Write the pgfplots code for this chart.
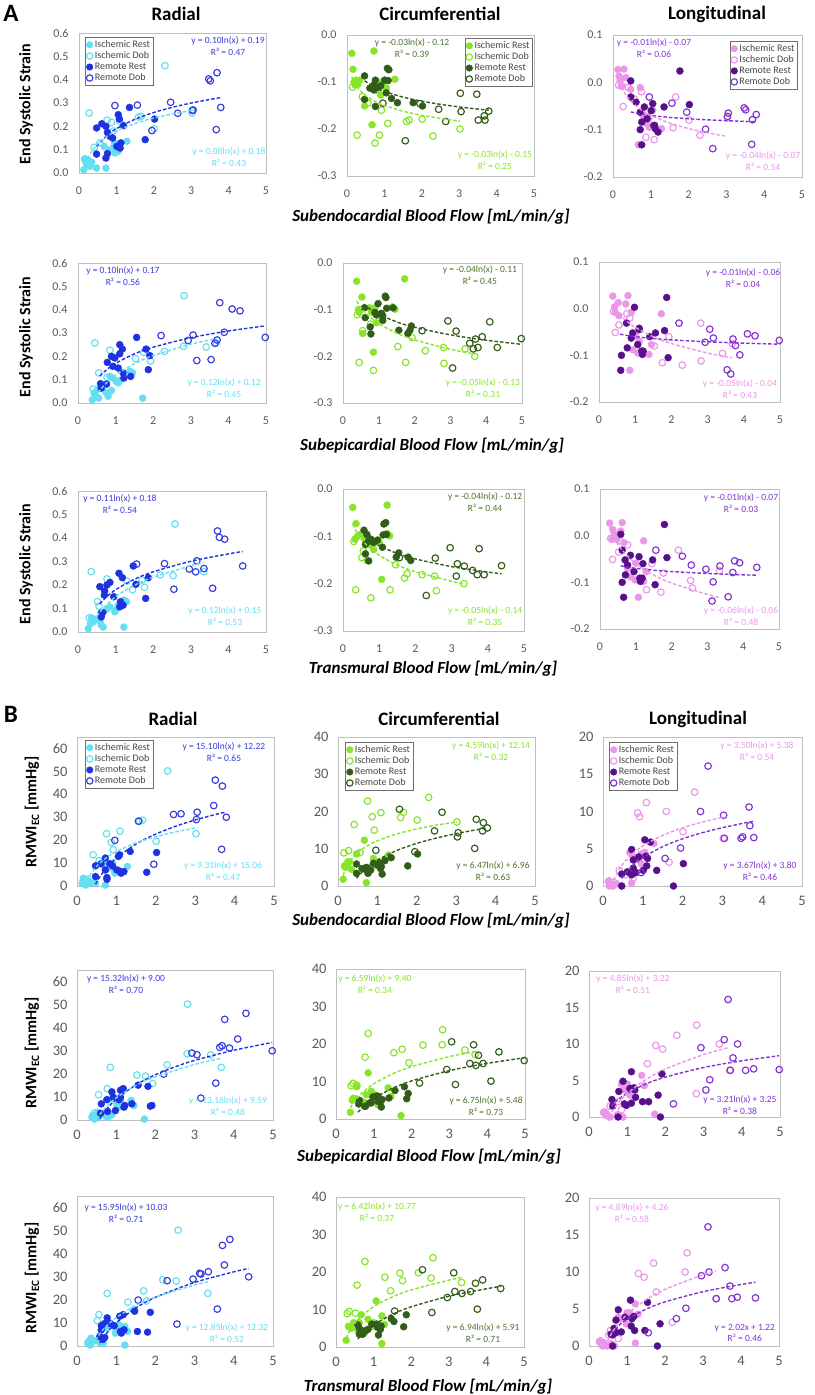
\documentclass[border=0pt]{standalone}
\usepackage{pgfplots}
\pgfplotsset{compat=1.18}
\usepackage{pgfplotstable}
\usepackage{fontspec}
\setmainfont{Carlito}
\definecolor{cyanI}{RGB}{100,222,240}
\definecolor{blueR}{RGB}{30,50,225}
\definecolor{blueD}{RGB}{55,60,220}
\definecolor{greenI}{RGB}{135,228,40}
\definecolor{greenR}{RGB}{50,92,25}
\definecolor{greenT}{RGB}{75,115,45}
\definecolor{pinkI}{RGB}{235,150,232}
\definecolor{purpleR}{RGB}{88,15,140}
\definecolor{purpleD}{RGB}{130,50,210}
\definecolor{axgray}{RGB}{190,190,190}
\definecolor{tickgray}{RGB}{89,89,89}
\definecolor{legtext}{RGB}{70,70,70}
\definecolor{leggray}{RGB}{110,110,110}
\newcommand\tickA{\fontsize{12}{14}\selectfont}
\newcommand\tickB{\fontsize{14.5}{16}\selectfont}
\newcommand\legfont{\fontsize{10}{11}\selectfont}
\newcommand\eqfont{\fontsize{9.5}{11.5}\selectfont}
\tikzset{eq/.style={font=\eqfont, align=center, inner sep=0pt}}

\pgfplotstableread{
en ep tr ra ci lo wr wc wl
0.13 0.38 0.27 0.014 -0.039 0.027 1.2 1.8 0.6
0.16 0.53 0.36 0.060 -0.073 0.013 3.4 5.4 0.0
0.19 0.43 0.40 0.043 -0.100 0.004 2.0 5.0 0.4
0.25 0.89 0.47 0.054 -0.096 -0.008 2.3 6.5 0.0
0.29 0.80 0.62 0.029 -0.105 0.028 1.2 6.5 0.2
0.34 0.74 0.58 0.046 -0.096 0.010 1.5 4.5 0.3
0.47 0.55 0.67 0.021 -0.151 -0.015 1.2 8.6 0.0
0.72 1.72 1.22 0.021 -0.034 -0.011 0.4 0.9 0.4
0.67 0.85 1.07 0.114 -0.191 -0.132 9.2 12.3 4.5
0.79 1.11 0.77 0.097 -0.117 -0.070 7.8 3.8 3.9
0.90 0.93 0.85 0.107 -0.128 -0.088 10.0 7.4 3.7
0.95 1.45 1.29 0.129 -0.099 -0.077 6.3 6.0 4.3
1.05 1.01 1.00 0.093 -0.113 -0.059 7.0 6.5 4.5
1.28 1.38 1.22 0.136 -0.094 -0.098 8.5 8.3 5.7
0.96 1.07 0.98 0.086 -0.108 -0.095 5.6 5.5 3.0
0.22 0.45 0.33 0.036 -0.106 -0.008 0.4 5.5 0.2
}\IR
\pgfplotstableread{
en ep tr ra ci lo wr wc wl
0.15 0.40 0.30 0.060 -0.111 -0.006 2.0 8.9 0.7
0.27 0.45 0.35 0.257 -0.213 -0.051 3.0 9.5 0.5
0.41 0.77 0.56 0.110 -0.131 -0.011 13.6 16.5 2.1
0.56 0.55 0.52 0.129 -0.145 -0.035 11.0 9.0 1.5
0.75 0.85 0.77 0.226 -0.230 -0.020 22.8 22.8 1.0
0.87 1.75 1.30 0.217 -0.213 -0.116 19.0 18.6 9.8
0.92 1.93 1.45 0.180 -0.160 -0.060 15.8 15.0 9.3
1.09 2.30 1.70 0.221 -0.188 -0.121 23.9 19.7 11.2
1.59 3.41 2.53 0.240 -0.184 -0.096 28.2 18.4 10.0
1.66 2.81 2.19 0.243 -0.181 -0.031 28.7 19.8 3.2
2.01 1.53 1.77 0.190 -0.179 -0.080 19.5 17.7 7.3
2.30 2.82 2.58 0.460 -0.215 -0.112 50.2 23.8 12.6
3.02 3.68 3.34 0.257 -0.200 -0.075 22.8 17.2 6.4
}\ID
\pgfplotstableread{
en ep tr ra ci lo wr wc wl
0.47 0.98 0.58 0.193 -0.087 0.003 4.1 5.9 1.6
0.47 0.76 0.62 0.081 -0.137 -0.031 8.8 3.4 0.0
0.61 1.11 0.85 0.211 -0.113 -0.042 9.7 4.7 1.9
0.72 0.89 0.77 0.200 -0.106 -0.063 12.2 4.3 4.9
0.76 0.78 0.71 0.174 -0.152 -0.084 3.7 3.4 3.5
0.76 0.60 0.66 0.083 -0.096 -0.132 2.9 4.0 2.4
0.72 0.62 0.62 0.064 -0.117 -0.100 7.0 5.0 1.5
0.90 1.07 0.95 0.150 -0.108 -0.077 8.8 6.1 3.9
1.05 1.11 1.09 0.250 -0.123 -0.045 12.9 6.1 6.2
1.08 1.18 1.18 0.231 -0.071 -0.091 13.6 4.7 4.0
1.19 1.91 1.54 0.203 -0.135 -0.105 6.3 6.8 5.9
1.01 1.40 1.20 0.114 -0.096 -0.060 7.0 5.6 2.1
1.12 1.20 1.13 0.129 -0.074 -0.098 5.6 3.2 3.7
1.35 1.56 1.47 0.281 -0.144 -0.052 15.1 7.6 2.1
1.77 1.87 1.80 0.143 -0.144 0.024 6.0 5.4 0.0
2.02 1.81 1.87 0.231 -0.151 -0.047 14.6 8.6 3.0
1.10 1.22 1.11 0.107 -0.097 -0.091 6.3 5.2 2.7
0.83 0.93 0.70 0.157 -0.111 -0.052 9.7 4.3 1.8
}\RR
\pgfplotstableread{
en ep tr ra ci lo wr wc wl
0.96 2.21 1.56 0.289 -0.145 -0.031 19.9 9.6 1.8
1.56 3.06 2.30 0.291 -0.225 -0.044 28.3 20.6 3.7
1.95 3.16 2.55 0.182 -0.146 -0.063 9.5 9.2 5.1
2.45 3.89 3.16 0.303 -0.158 -0.099 31.2 14.8 10.0
2.64 3.64 3.13 0.256 -0.184 -0.140 31.5 19.8 16.1
3.03 2.93 2.96 0.268 -0.124 -0.072 29.0 13.2 9.5
3.05 3.70 3.35 0.270 -0.163 -0.065 32.2 14.3 6.4
3.47 4.10 3.76 0.403 -0.126 -0.054 35.1 10.1 6.4
3.51 4.31 3.90 0.395 -0.181 -0.058 46.2 17.9 6.6
3.67 3.54 3.58 0.186 -0.172 -0.131 16.0 14.8 10.6
3.69 3.77 3.71 0.430 -0.181 -0.079 43.6 17.0 8.1
3.79 4.98 4.38 0.281 -0.162 -0.068 30.0 15.6 6.5
}\RD

\pgfplotsset{
  base/.style={scale only axis, anchor=south west, xmin=0, xmax=5, xtick={0,1,2,3,4,5},
    axis line style={draw=axgray, line width=0.7pt}, major tick length=0pt,
    tick label style={text=tickgray},
    /pgf/number format/assume math mode=true, clip mode=individual,
    legend cell align=left,
    legend style={draw=leggray, fill=white, font=\legfont, text=legtext, inner sep=1.2pt,
      row sep=-1.2pt, line width=0.6pt, /tikz/every even column/.append style={column sep=0pt}},
    legend image code/.code={\draw[#1, mark size=3.2pt] plot coordinates {(3.5pt,0pt)};}},
  Aax/.style={base, tick label style={font=\tickA}, xticklabel style={yshift=-10pt}, yticklabel style={xshift=-7pt}},
  Bax/.style={base, tick label style={font=\tickB}, xticklabel style={yshift=-7pt}, yticklabel style={xshift=-6pt}},
  rA/.style={Aax, ymin=0, ymax=0.6, ytick={0,0.1,0.2,0.3,0.4,0.5,0.6}, yticklabel style={/pgf/number format/.cd, fixed, fixed zerofill, precision=1}},
  cA/.style={Aax, ymin=-0.3, ymax=0, ytick={-0.3,-0.2,-0.1,0}, yticklabel style={/pgf/number format/.cd, fixed, fixed zerofill, precision=1}},
  lA/.style={Aax, ymin=-0.2, ymax=0.1, ytick={-0.2,-0.1,0,0.1}, yticklabel style={/pgf/number format/.cd, fixed, fixed zerofill, precision=1}},
  rB/.style={Bax, ymin=0, ymax=65, ytick={0,10,20,30,40,50,60}},
  cB/.style={Bax, ymin=0, ymax=40, ytick={0,10,20,30,40}},
  lB/.style={Bax, ymin=0, ymax=20, ytick={0,5,10,15,20}},
  fillm/.style={only marks, mark=*, mark size=3.5pt, color=#1},
  openm/.style={only marks, mark=o, mark size=3.3pt, color=#1, mark options={line width=1.15pt}},
  trend/.style={no marks, smooth, color=#1, line width=1.4pt, dash pattern=on 3.5pt off 2pt, forget plot},
}
\newcommand{\scat}[5]{%
  \addplot[fillm=#3] table[x=#1,y=#2]{\IR};
  \addplot[openm=#3] table[x=#1,y=#2]{\ID};
  \addplot[fillm=#4] table[x=#1,y=#2]{\RR};
  \addplot[openm=#5] table[x=#1,y=#2]{\RD};
}
\newcommand{\leg}{\legend{Ischemic Rest, Ischemic Dob, Remote Rest, Remote Dob}}

\begin{document}
\begin{tikzpicture}
\useasboundingbox (0pt,0pt) rectangle (814pt,-1395pt);

% ================= A row 1 (subendocardial) =================
\begin{axis}[rA, at={(79pt,-173pt)}, width=187pt, height=140pt,
  legend style={at={(0.032,0.971)}, anchor=north west}]
\scat{en}{ra}{cyanI}{blueR}{blueD}
\addplot[trend=blueR] coordinates {(0.47,0.1145)(0.75,0.1612)(1,0.19)(1.5,0.2305)(2,0.2593)(2.5,0.2816)(3,0.2999)(3.5,0.3153)(3.79,0.3232)};
\addplot[trend=cyanI] coordinates {(0.13,0.0168)(0.2,0.0513)(0.3,0.0837)(0.5,0.1246)(0.75,0.157)(1,0.18)(1.5,0.2124)(2,0.2354)(2.5,0.2533)(3.02,0.2684)};
\leg
\node[eq, text=blueD] at (rel axis cs:0.797,0.907) {y = 0.10ln(x) + 0.19\\R² = 0.47};
\node[eq, text=cyanI] at (rel axis cs:0.802,0.114) {y = 0.08ln(x) + 0.18\\R² = 0.43};
\end{axis}

\begin{axis}[cA, at={(347pt,-176pt)}, width=187pt, height=141pt,
  legend style={at={(0.995,0.978)}, anchor=north east}]
\scat{en}{ci}{greenI}{greenR}{greenR}
\addplot[trend=greenR] coordinates {(0.47,-0.0973)(0.75,-0.1114)(1,-0.12)(1.5,-0.1322)(2,-0.1408)(2.5,-0.1475)(3,-0.153)(3.5,-0.1576)(3.79,-0.16)};
\addplot[trend=greenI] coordinates {(0.13,-0.0888)(0.2,-0.1017)(0.3,-0.1139)(0.5,-0.1292)(0.75,-0.1414)(1,-0.15)(1.5,-0.1622)(2,-0.1708)(2.5,-0.1775)(3.02,-0.1832)};
\leg
\node[eq, text=greenT] at (rel axis cs:0.348,0.908) {y = -0.03ln(x) - 0.12\\R² = 0.39};
\node[eq, text=greenI] at (rel axis cs:0.791,0.113) {y = -0.03ln(x) - 0.15\\R² = 0.25};
\end{axis}

\begin{axis}[lA, at={(613pt,-177pt)}, width=189pt, height=142pt,
  legend style={at={(0.979,0.958)}, anchor=north east}]
\scat{en}{lo}{pinkI}{purpleR}{purpleD}
\addplot[trend=purpleD] coordinates {(0.47,-0.0625)(0.75,-0.0671)(1,-0.07)(1.5,-0.0741)(2,-0.0769)(2.5,-0.0792)(3,-0.081)(3.5,-0.0825)(3.79,-0.0833)};
\addplot[trend=pinkI] coordinates {(0.13,0.0116)(0.2,-0.0056)(0.3,-0.0218)(0.5,-0.0423)(0.75,-0.0585)(1,-0.07)(1.5,-0.0862)(2,-0.0977)(2.5,-0.1066)(3.02,-0.1142)};
\leg
\node[eq, text=purpleD] at (rel axis cs:0.217,0.908) {y = -0.01ln(x) - 0.07\\R² = 0.06};
\node[eq, text=pinkI] at (rel axis cs:0.794,0.113) {y = -0.04ln(x) - 0.07\\R² = 0.54};
\end{axis}

% ================= A row 2 (subepicardial) =================
\begin{axis}[rA, at={(78pt,-403pt)}, width=188pt, height=140pt]
\scat{ep}{ra}{cyanI}{blueR}{blueD}
\addplot[trend=blueR] coordinates {(0.58,0.1155)(0.75,0.1412)(1,0.17)(1.5,0.2105)(2,0.2393)(3,0.2799)(4,0.3086)(4.98,0.3305)};
\addplot[trend=cyanI] coordinates {(0.38,0.0038)(0.5,0.0368)(0.75,0.0854)(1,0.12)(1.5,0.1686)(2,0.2032)(3,0.2519)(3.68,0.2764)};
\node[eq, text=blueD] at (rel axis cs:0.239,0.907) {y = 0.10ln(x) + 0.17\\R² = 0.56};
\node[eq, text=cyanI] at (rel axis cs:0.777,0.107) {y = 0.12ln(x) + 0.12\\R² = 0.45};
\end{axis}

\begin{axis}[cA, at={(343pt,-403pt)}, width=179pt, height=140pt]
\scat{ep}{ci}{greenI}{greenR}{greenR}
\addplot[trend=greenR] coordinates {(0.58,-0.0882)(0.75,-0.0985)(1,-0.11)(1.5,-0.1262)(2,-0.1377)(3,-0.154)(4,-0.1654)(4.98,-0.1742)};
\addplot[trend=greenI] coordinates {(0.38,-0.0816)(0.5,-0.0954)(0.75,-0.1156)(1,-0.13)(1.5,-0.1503)(2,-0.1647)(3,-0.185)(3.68,-0.1952)};
\node[eq, text=greenT] at (rel axis cs:0.765,0.914) {y = -0.04ln(x) - 0.11\\R² = 0.45};
\node[eq, text=greenI] at (rel axis cs:0.782,0.107) {y = -0.05ln(x) - 0.13\\R² = 0.31};
\end{axis}

\begin{axis}[lA, at={(599pt,-402pt)}, width=181pt, height=140pt]
\scat{ep}{lo}{pinkI}{purpleR}{purpleD}
\addplot[trend=purpleD] coordinates {(0.58,-0.0546)(0.75,-0.0571)(1,-0.06)(1.5,-0.0641)(2,-0.0669)(3,-0.071)(4,-0.0739)(4.98,-0.0761)};
\addplot[trend=pinkI] coordinates {(0.38,0.0084)(0.5,-0.0054)(0.75,-0.0256)(1,-0.04)(1.5,-0.0603)(2,-0.0747)(3,-0.095)(3.68,-0.1052)};
\node[eq, text=purpleD] at (rel axis cs:0.796,0.886) {y = -0.01ln(x) - 0.06\\R² = 0.04};
\node[eq, text=pinkI] at (rel axis cs:0.779,0.093) {y = -0.05ln(x) - 0.04\\R² = 0.43};
\end{axis}

% ================= A row 3 (transmural) =================
\begin{axis}[rA, at={(78pt,-632pt)}, width=188pt, height=141pt]
\scat{tr}{ra}{cyanI}{blueR}{blueD}
\addplot[trend=blueR] coordinates {(0.58,0.12)(0.75,0.1483)(1,0.18)(1.5,0.2246)(2,0.2562)(3,0.3009)(4,0.3325)(4.38,0.3425)};
\addplot[trend=cyanI] coordinates {(0.3,0.0055)(0.4,0.0401)(0.6,0.0887)(1,0.15)(1.5,0.1986)(2,0.2332)(3,0.2819)(3.34,0.2947)};
\node[eq, text=blueD] at (rel axis cs:0.223,0.908) {y = 0.11ln(x) + 0.18\\R² = 0.54};
\node[eq, text=cyanI] at (rel axis cs:0.782,0.113) {y = 0.12ln(x) + 0.15\\R² = 0.53};
\end{axis}

\begin{axis}[cA, at={(343pt,-631pt)}, width=181pt, height=142pt]
\scat{tr}{ci}{greenI}{greenR}{greenR}
\addplot[trend=greenR] coordinates {(0.58,-0.0982)(0.75,-0.1085)(1,-0.12)(1.5,-0.1362)(2,-0.1477)(3,-0.164)(4,-0.1754)(4.38,-0.1791)};
\addplot[trend=greenI] coordinates {(0.27,-0.0746)(0.4,-0.0942)(0.6,-0.1145)(1,-0.14)(1.5,-0.1603)(2,-0.1747)(3,-0.195)(3.34,-0.2003)};
\node[eq, text=greenT] at (rel axis cs:0.785,0.908) {y = -0.04ln(x) - 0.12\\R² = 0.44};
\node[eq, text=greenI] at (rel axis cs:0.785,0.106) {y = -0.05ln(x) - 0.14\\R² = 0.35};
\end{axis}

\begin{axis}[lA, at={(600pt,-629pt)}, width=179pt, height=140pt]
\scat{tr}{lo}{pinkI}{purpleR}{purpleD}
\addplot[trend=purpleD] coordinates {(0.58,-0.0646)(0.75,-0.0671)(1,-0.07)(1.5,-0.0741)(2,-0.0769)(3,-0.081)(4,-0.0839)(4.38,-0.0848)};
\addplot[trend=pinkI] coordinates {(0.27,0.0185)(0.4,-0.005)(0.6,-0.0293)(1,-0.06)(1.5,-0.0843)(2,-0.1016)(3,-0.1259)(3.34,-0.1324)};
\node[eq, text=purpleD] at (rel axis cs:0.788,0.9) {y = -0.01ln(x) - 0.07\\R² = 0.03};
\node[eq, text=pinkI] at (rel axis cs:0.788,0.093) {y = -0.06ln(x) - 0.06\\R² = 0.48};
\end{axis}

% ================= B row 1 (subendocardial) =================
\begin{axis}[rB, at={(77pt,-886pt)}, width=197pt, height=149pt,
  legend style={at={(0.041,0.98)}, anchor=north west}]
\scat{en}{wr}{cyanI}{blueR}{blueD}
\addplot[trend=blueR] coordinates {(0.47,0.82)(0.6,4.50)(0.75,7.87)(1,12.22)(1.5,18.34)(2,22.68)(2.5,26.05)(3,28.81)(3.5,31.14)(3.79,32.33)};
\addplot[trend=cyanI] coordinates {(0.2,0.08)(0.3,3.85)(0.5,8.61)(0.75,12.38)(1,15.06)(1.5,18.83)(2,21.51)(2.5,23.59)(3.02,25.35)};
\leg
\node[eq, text=blueD] at (rel axis cs:0.746,0.899) {y = 15.10ln(x) + 12.22\\R² = 0.65};
\node[eq, text=cyanI] at (rel axis cs:0.741,0.10) {y = 9.31ln(x) + 15.06\\R² = 0.47};
\end{axis}

\begin{axis}[cB, at={(338pt,-886pt)}, width=197pt, height=149pt,
  legend style={at={(0.036,0.966)}, anchor=north west}]
\scat{en}{wc}{greenI}{greenR}{greenR}
\addplot[trend=greenR] coordinates {(0.47,2.08)(0.6,3.65)(0.75,5.10)(1,6.96)(1.5,9.58)(2,11.44)(2.5,12.89)(3,14.07)(3.5,15.07)(3.79,15.58)};
\addplot[trend=greenI] coordinates {(0.13,2.78)(0.2,4.76)(0.3,6.61)(0.5,8.96)(0.75,10.82)(1,12.14)(1.5,14.0)(2,15.32)(2.5,16.34)(3.02,17.21)};
\leg
\node[eq, text=greenI] at (rel axis cs:0.777,0.906) {y = 4.59ln(x) + 12.14\\R² = 0.32};
\node[eq, text=greenT] at (rel axis cs:0.787,0.10) {y = 6.47ln(x) + 6.96\\R² = 0.63};
\end{axis}

\begin{axis}[lB, at={(603pt,-886pt)}, width=199pt, height=149pt,
  legend style={at={(0.03,0.966)}, anchor=north west}]
\scat{en}{wl}{pinkI}{purpleR}{purpleD}
\addplot[trend=purpleD] coordinates {(0.47,1.03)(0.6,1.92)(0.75,2.74)(1,3.80)(1.5,5.29)(2,6.34)(2.5,7.16)(3,7.83)(3.5,8.40)(3.79,8.69)};
\addplot[trend=pinkI] coordinates {(0.22,0.08)(0.3,1.17)(0.5,2.95)(0.75,4.37)(1,5.38)(1.5,6.80)(2,7.81)(2.5,8.59)(3.02,9.25)};
\leg
\node[eq, text=pinkI] at (rel axis cs:0.774,0.906) {y = 3.50ln(x) + 5.38\\R² = 0.54};
\node[eq, text=purpleD] at (rel axis cs:0.789,0.10) {y = 3.67ln(x) + 3.80\\R² = 0.46};
\end{axis}

% ================= B row 2 (subepicardial) =================
\begin{axis}[rB, at={(77pt,-1120pt)}, width=196pt, height=150pt]
\scat{ep}{wr}{cyanI}{blueR}{blueD}
\addplot[trend=blueR] coordinates {(0.58,0.65)(0.75,4.59)(1,9.0)(1.5,15.20)(2,19.62)(2.5,23.03)(3,25.84)(4,30.23)(4.98,33.59)};
\addplot[trend=cyanI] coordinates {(0.5,0.47)(0.6,2.87)(0.75,5.80)(1,9.59)(1.5,14.92)(2,18.71)(3,24.05)(3.68,26.74)};
\node[eq, text=blueD] at (rel axis cs:0.25,0.907) {y = 15.32ln(x) + 9.00\\R² = 0.70};
\node[eq, text=cyanI] at (rel axis cs:0.77,0.093) {y = 13.16ln(x) + 9.59\\R² = 0.48};
\end{axis}

\begin{axis}[cB, at={(336pt,-1119pt)}, width=189pt, height=150pt]
\scat{ep}{wc}{greenI}{greenR}{greenR}
\addplot[trend=greenR] coordinates {(0.58,1.80)(0.75,3.54)(1,5.48)(1.5,8.21)(2,10.16)(3,12.90)(4,14.84)(4.98,16.31)};
\addplot[trend=greenI] coordinates {(0.38,3.02)(0.5,4.83)(0.75,7.50)(1,9.40)(1.5,12.07)(2,13.97)(3,16.64)(3.68,17.99)};
\node[eq, text=greenI] at (rel axis cs:0.206,0.9) {y = 6.59ln(x) + 9.40\\R² = 0.34};
\node[eq, text=greenT] at (rel axis cs:0.794,0.087) {y = 6.75ln(x) + 5.48\\R² = 0.73};
\end{axis}

\begin{axis}[lB, at={(589pt,-1117pt)}, width=191pt, height=146pt]
\scat{ep}{wl}{pinkI}{purpleR}{purpleD}
\addplot[trend=purpleD] coordinates {(0.58,1.50)(0.75,2.33)(1,3.25)(1.5,4.55)(2,5.47)(3,6.78)(4,7.70)(4.98,8.40)};
\addplot[trend=pinkI] coordinates {(0.52,0.05)(0.6,0.74)(0.75,1.82)(1,3.22)(1.5,5.18)(2,6.58)(3,8.55)(3.68,9.54)};
\node[eq, text=pinkI] at (rel axis cs:0.23,0.911) {y = 4.85ln(x) + 3.22\\R² = 0.51};
\node[eq, text=purpleD] at (rel axis cs:0.79,0.082) {y = 3.21ln(x) + 3.25\\R² = 0.38};
\end{axis}

% ================= B row 3 (transmural) =================
\begin{axis}[rB, at={(77pt,-1346pt)}, width=196pt, height=150pt]
\scat{tr}{wr}{cyanI}{blueR}{blueD}
\addplot[trend=blueR] coordinates {(0.58,1.34)(0.75,5.44)(1,10.03)(1.5,16.49)(2,21.08)(3,27.56)(4,32.14)(4.38,33.59)};
\addplot[trend=cyanI] coordinates {(0.4,0.55)(0.6,5.75)(0.75,8.62)(1,12.32)(1.5,17.52)(2,21.23)(3,26.44)(3.34,27.82)};
\node[eq, text=blueD] at (rel axis cs:0.25,0.887) {y = 15.95ln(x) + 10.03\\R² = 0.71};
\node[eq, text=cyanI] at (rel axis cs:0.765,0.087) {y = 12.85ln(x) + 12.32\\R² = 0.52};
\end{axis}

\begin{axis}[cB, at={(336pt,-1347pt)}, width=188pt, height=150pt]
\scat{tr}{wc}{greenI}{greenR}{greenR}
\addplot[trend=greenR] coordinates {(0.58,2.13)(0.75,3.91)(1,5.91)(1.5,8.72)(2,10.72)(3,13.54)(4,15.53)(4.38,16.16)};
\addplot[trend=greenI] coordinates {(0.27,2.37)(0.4,4.89)(0.6,7.49)(1,10.77)(1.5,13.37)(2,15.22)(3,17.83)(3.34,18.51)};
\node[eq, text=greenI] at (rel axis cs:0.218,0.9) {y = 6.42ln(x) + 10.77\\R² = 0.37};
\node[eq, text=greenT] at (rel axis cs:0.782,0.093) {y = 6.94ln(x) + 5.91\\R² = 0.71};
\end{axis}

\begin{axis}[lB, at={(589pt,-1346pt)}, width=190pt, height=148pt]
\scat{tr}{wl}{pinkI}{purpleR}{purpleD}
\addplot[trend=purpleD] coordinates {(0.58,1.75)(0.75,2.62)(1,3.60)(1.5,4.98)(2,5.96)(3,7.34)(4,8.31)(4.38,8.62)};
\addplot[trend=pinkI] coordinates {(0.42,0.02)(0.6,1.76)(0.75,2.85)(1,4.26)(1.5,6.24)(2,7.65)(3,9.63)(3.34,10.16)};
\node[eq, text=pinkI] at (rel axis cs:0.226,0.899) {y = 4.89ln(x) + 4.26\\R² = 0.58};
\node[eq, text=purpleD] at (rel axis cs:0.82,0.088) {y = 2.02x + 1.22\\R² = 0.46};
\end{axis}

% ================= texts =================
\node[font=\bfseries\fontsize{25}{25}\selectfont] at (11pt,-13pt) {A};
\node[font=\bfseries\fontsize{25}{25}\selectfont] at (11pt,-714pt) {B};
\begin{scope}[every node/.style={font=\bfseries\fontsize{19}{20}\selectfont}]
\node at (176pt,-14pt) {Radial};
\node at (440pt,-14pt) {Circumferential};
\node at (717pt,-14pt) {Longitudinal};
\node at (173pt,-719pt) {Radial};
\node at (439pt,-719pt) {Circumferential};
\node at (698pt,-719pt) {Longitudinal};
\end{scope}
\begin{scope}[every node/.style={font=\bfseries\fontsize{16}{17}\selectfont, rotate=90}]
\node at (26pt,-104pt) {End Systolic Strain};
\node at (26pt,-337pt) {End Systolic Strain};
\node at (26pt,-564pt) {End Systolic Strain};
\node at (32pt,-812pt) {RMWI\textsubscript{EC} [mmHg]};
\node at (32pt,-1053pt) {RMWI\textsubscript{EC} [mmHg]};
\node at (32pt,-1278pt) {RMWI\textsubscript{EC} [mmHg]};
\end{scope}
\begin{scope}[every node/.style={font=\bfseries\itshape\fontsize{17}{18}\selectfont}]
\node at (431pt,-217pt) {Subendocardial Blood Flow [mL/min/g]};
\node at (432pt,-446pt) {Subepicardial Blood Flow [mL/min/g]};
\node at (433pt,-669pt) {Transmural Blood Flow [mL/min/g]};
\node at (431pt,-921pt) {Subendocardial Blood Flow [mL/min/g]};
\node at (429pt,-1157pt) {Subepicardial Blood Flow [mL/min/g]};
\node at (428pt,-1387pt) {Transmural Blood Flow [mL/min/g]};
\end{scope}
\end{tikzpicture}
\end{document}
